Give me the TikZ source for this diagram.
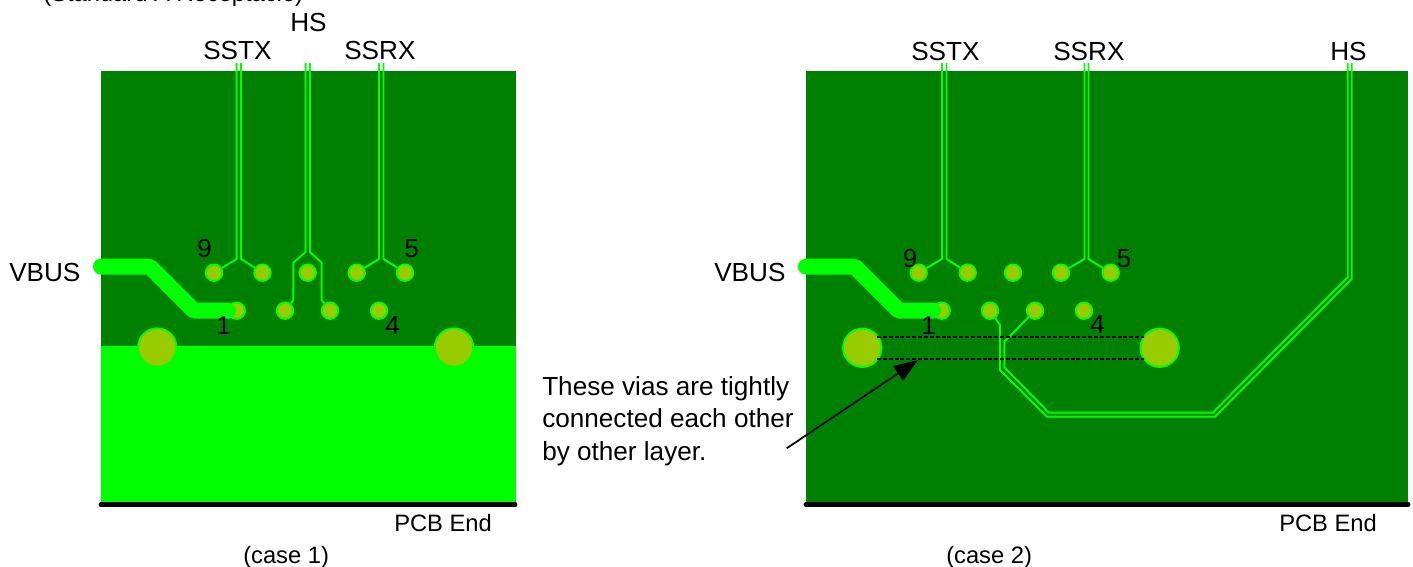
\documentclass[tikz,border=0pt]{standalone}
\usepackage{fontspec}
\setmainfont{Liberation Sans}
\usetikzlibrary{arrows.meta}
\definecolor{pcbdark}{RGB}{0,128,0}
\definecolor{pcblime}{RGB}{0,255,0}
\definecolor{viafill}{RGB}{153,204,0}
\tikzset{
  px/.style={x=0.75pt,y=-0.75pt},
  via/.style={circle,draw=pcblime,fill=viafill,line width=1.4pt,minimum size=12.4pt,inner sep=0pt},
  bigvia/.style={circle,draw=pcblime,fill=viafill,line width=1.4pt,minimum size=28.8pt,inner sep=0pt},
  trace/.style={draw=pcblime,line width=1.45pt,line join=miter},
  power/.style={draw=pcblime,line width=12pt,line cap=round,line join=bevel},
  edge line/.style={draw=black,line width=3.7pt,line cap=round},
  tie/.style={draw=black,line width=1.4pt,dash pattern=on 3pt off 1.4pt},
  lbl/.style={anchor=base west,inner sep=0pt,font=\fontsize{19.6pt}{24pt}\selectfont},
  small/.style={anchor=base west,inner sep=0pt,font=\fontsize{17.8pt}{22pt}\selectfont},
  pointer/.style={draw=black,line width=1.3pt,-{Triangle[length=18pt,width=13pt]}}
}
\begin{document}
\begin{tikzpicture}[px]
\useasboundingbox (0,0) rectangle (1413,567);
\clip (0,0) rectangle (1413,567);
% boards
\fill[pcbdark] (101,71) rectangle (516,347);
\fill[pcblime] (101,346) rectangle (516,503);
\fill[pcbdark] (806,71) rectangle (1408,503);
\coordinate (e1a) at (101,504.5); \coordinate (e1b) at (515,504.5);
\coordinate (e2a) at (806,504.5); \coordinate (e2b) at (1408,504.5);
\draw[edge line] (e1a) -- (e1b);
\draw[edge line] (e2a) -- (e2b);
% case 1 vias
\foreach \n/\x in {a1/214,a2/262.5,a3/307.7,a4/356.7,a5/405}
  \node[via] (\n) at (\x,272.7) {};
\foreach \n/\x in {b1/236.7,b2/285,b3/330,b4/379}
  \node[via] (\n) at (\x,310.7) {};
\node[bigvia] (g1) at (157.3,347.5) {};
\node[bigvia] (g2) at (454,347.5) {};
% case 1 traces
\coordinate (ta) at (236.7,63); \coordinate (tb) at (241.2,63);
\draw[trace] (ta) -- (236.7,259) -- (a1);
\draw[trace] (tb) -- (241.2,259) -- (a2);
\coordinate (hsa) at (305.7,63); \coordinate (hsb) at (310,63);
\draw[trace] (hsa) -- (305.7,252) -- (293.3,262.7) -- (293.3,300) -- (b2);
\draw[trace] (hsb) -- (310,252) -- (321.7,262.7) -- (321.7,300) -- (b3);
\coordinate (ra) at (379,63); \coordinate (rb) at (383.5,63);
\draw[trace] (ra) -- (379,259) -- (a4);
\draw[trace] (rb) -- (383.5,259) -- (a5);
\coordinate (pw1) at (101,266.7); \coordinate (pw1e) at (228,310.7);
\draw[power] (pw1) -- (150,266.7) -- (194,310.7) -- (pw1e);
% case 2 vias
\foreach \n/\x in {c1/918.7,c2/967.7,c3/1013,c4/1061,c5/1110.7}
  \node[via] (\n) at (\x,272.7) {};
\foreach \n/\x in {d1/941.7,d2/990,d3/1035,d4/1084}
  \node[via] (\n) at (\x,310.7) {};
\node[bigvia] (g3) at (862.3,347.8) {};
\node[bigvia] (g4) at (1159.7,347.8) {};
% case 2 traces
\coordinate (tc) at (942,63); \coordinate (td) at (946.5,63);
\draw[trace] (tc) -- (942,259) -- (c1);
\draw[trace] (td) -- (946.5,259) -- (c2);
\coordinate (rc) at (1084.5,63); \coordinate (rd) at (1088.5,63);
\draw[trace] (rc) -- (1084.5,259) -- (c4);
\draw[trace] (rd) -- (1088.5,259) -- (c5);
\coordinate (hsc) at (1347.7,63); \coordinate (hsd) at (1351.7,63);
\draw[trace] (hsc) -- (1347.7,277.3) -- (1212.7,412.7) -- (1049,412.7) -- (1004.3,367.3) -- (1004.3,341.7) -- (d3);
\draw[trace] (hsd) -- (1351.7,279) -- (1215,416.7) -- (1047,416.7) -- (1000,370) -- (1000,325) -- (d2);
\coordinate (pw2) at (806,266.7); \coordinate (pw2e) at (933,310.7);
\draw[power] (pw2) -- (855,266.7) -- (899,310.7) -- (pw2e);
% ties between big vias
\coordinate (k1) at (877,337.3); \coordinate (k2) at (1144,337.3);
\coordinate (k3) at (877,359); \coordinate (k4) at (1144,359);
\draw[tie] (k1) -- (k2);
\draw[tie] (k3) -- (k4);
% pointer
\coordinate (p1) at (786.7,448.3); \coordinate (p2) at (918,360);
\draw[pointer] (p1) -- (p2);
% labels
\node[small] (title) at (43,1.5) {(Standard A Receptacle)};
\node[lbl] (l1) at (203,60) {SSTX};
\node[lbl] (l2) at (290,32) {HS};
\node[lbl] (l3) at (344,60) {SSRX};
\node[lbl] (l4) at (9,281) {VBUS};
\node[lbl] (l5) at (197,257) {9};
\node[lbl] (l6) at (404,257) {5};
\node[lbl] (l7) at (216,334) {1};
\node[lbl] (l8) at (385,334) {4};
\node[small] (l9) at (394,531) {PCB End};
\node[small] (l10) at (243,563) {(case 1)};
\node[lbl] (m1) at (911,61) {SSTX};
\node[lbl] (m2) at (1053,61) {SSRX};
\node[lbl] (m3) at (1330,61) {HS};
\node[lbl] (m4) at (714,281) {VBUS};
\node[lbl] (m5) at (902.5,267.5) {9};
\node[lbl] (m6) at (1116.5,267) {5};
\node[lbl] (m7) at (921,334) {1};
\node[lbl] (m8) at (1090,333.5) {4};
\node[small] (m9) at (1279,531) {PCB End};
\node[small] (m10) at (946,563) {(case 2)};
\node[lbl] (n1) at (542,395) {These vias are tightly};
\node[lbl] (n2) at (542,427.7) {connected each other};
\node[lbl] (n3) at (542,460) {by other layer.};
\end{tikzpicture}
\end{document}
